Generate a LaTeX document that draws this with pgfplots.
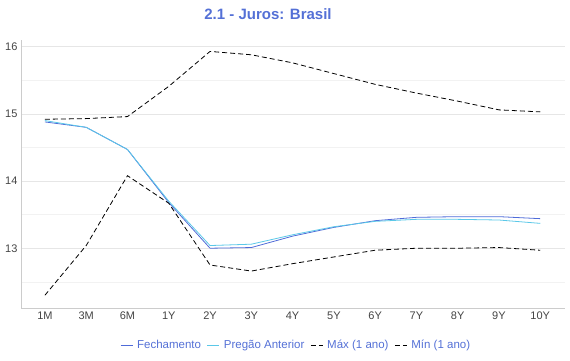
\documentclass[border=0pt]{standalone}
\usepackage{fontspec}
\setmainfont{Liberation Sans}
\usepackage{pgfplots}
\pgfplotsset{compat=1.18}
\definecolor{titleblue}{HTML}{5470D6}
\definecolor{fech}{HTML}{4F6BD8}
\definecolor{preg}{HTML}{5BC8E8}
\definecolor{tickgray}{HTML}{444444}
\definecolor{axgray}{HTML}{CCCCCC}
\definecolor{gridgray}{HTML}{E6E6E6}
\definecolor{minorgray}{HTML}{F2F2F2}
\begin{document}
\begin{tikzpicture}[x=1pt,y=1pt]
\useasboundingbox (0,0) rectangle (570,360);
\node[font=\bfseries\fontsize{15}{18}\selectfont, text=titleblue] at (268,346) {2.1 - Juros: Brasil};
\begin{axis}[
  at={(21pt,52pt)}, anchor=south west,
  scale only axis, width=544pt, height=268pt,
  xmin=-0.58, xmax=12.6, ymin=12.11, ymax=16.1,
  xtick={0,...,12},
  xticklabels={1M,3M,6M,1Y,2Y,3Y,4Y,5Y,6Y,7Y,8Y,9Y,10Y},
  ytick={13,14,15,16},
  minor ytick={12.5,13.5,14.5,15.5},
  ymajorgrids, yminorgrids,
  major grid style={gridgray, line width=0.6pt},
  minor grid style={minorgray, line width=0.6pt},
  axis x line*=bottom, axis y line*=left,
  axis line style={axgray, line width=0.8pt, -},
  major tick length=0pt, minor tick length=0pt,
  tick label style={font=\fontsize{11}{12}\selectfont, text=tickgray},
  /pgf/number format/assume math mode=true,
  legend columns=4,
  legend style={at={(0.506,-0.138)}, anchor=center, draw=none, fill=none,
    font=\fontsize{11.5}{13}\selectfont, text=titleblue,
    /tikz/every odd column/.append style={column sep=2pt},
    /tikz/every even column/.append style={column sep=4pt}},
  legend image code/.code={\draw[#1] (0pt,0pt) -- (12pt,0pt);},
  clip=false,
]
\addplot[fech, line width=0.8pt] coordinates {
(0,14.88) (1,14.80) (2,14.47) (3,13.68) (4,13.00) (5,13.01) (6,13.18) (7,13.31) (8,13.41) (9,13.46) (10,13.47) (11,13.47) (12,13.44)};
\addlegendentry{Fechamento}
\addplot[preg, line width=0.8pt] coordinates {
(0,14.90) (1,14.80) (2,14.47) (3,13.70) (4,13.04) (5,13.06) (6,13.20) (7,13.32) (8,13.40) (9,13.43) (10,13.43) (11,13.42) (12,13.37)};
\addlegendentry{Pregão Anterior}
\addplot[black, line width=0.8pt, dash pattern=on 5pt off 3pt] coordinates {
(0,14.92) (1,14.93) (2,14.96) (3,15.41) (4,15.93) (5,15.88) (6,15.76) (7,15.60) (8,15.44) (9,15.31) (10,15.19) (11,15.06) (12,15.03)};
\addlegendentry{Máx (1 ano)}
\addplot[black, line width=0.8pt, dash pattern=on 5pt off 3pt] coordinates {
(0,12.30) (1,13.04) (2,14.08) (3,13.67) (4,12.75) (5,12.66) (6,12.77) (7,12.87) (8,12.97) (9,13.00) (10,13.00) (11,13.01) (12,12.97)};
\addlegendentry{Mín (1 ano)}
\end{axis}
\end{tikzpicture}
\end{document}
